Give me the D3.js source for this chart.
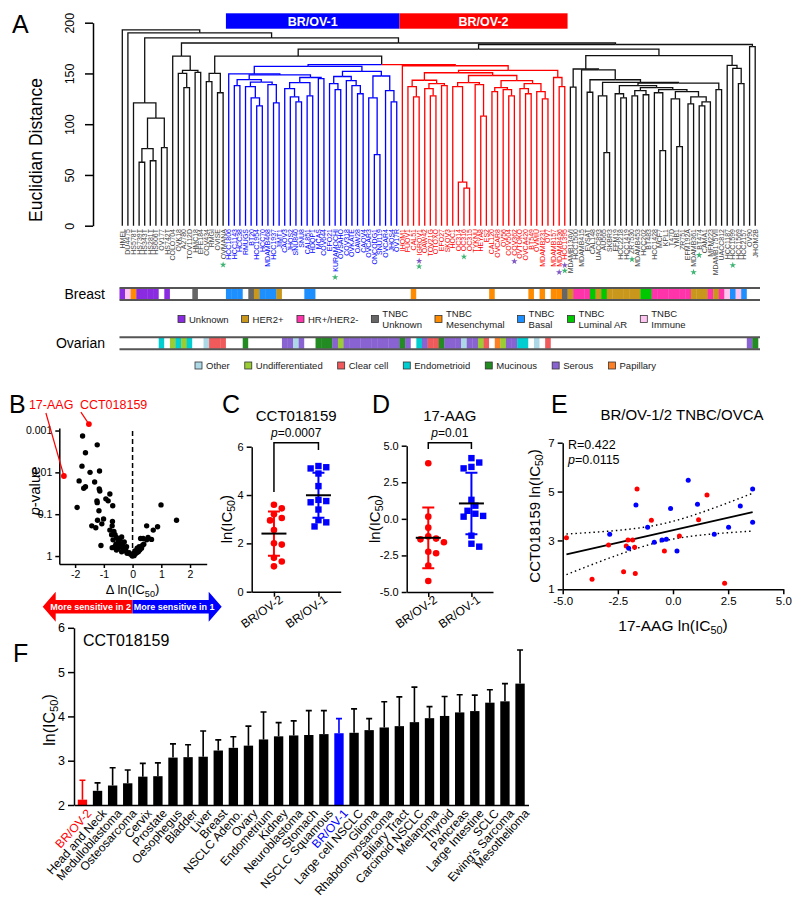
<!DOCTYPE html>
<html>
<head>
<meta charset="utf-8">
<script src="https://cdn.jsdelivr.net/npm/d3@7"></script>
<style>
  body { margin: 0; background: #fff; }
  text { font-family: "Liberation Sans", Arial, Helvetica, sans-serif; }
</style>
</head>
<body>
<script>
// ---------------- data ----------------
// dendrogram: [mergeHeight, left, right] or a leaf name
var hsTree = [121, "HS578T", [106, [76, [62.5, "HS739T", "HS343T"], [64, "HS281T", "HS606T"]], [77, "OV177", "HS742T"]]];
var coloTree = [167, "COLO704", [153, [150, "OVK18", [136, "A2780", "TOV112D"]], [151, "HMC18", "EFE184"]]];
var clearTree = [150, [142, "COV434", "RMGI"], [131, "OVISE", "OVMANA"]];
var blueTree = [157,
  [149.5, "HCC1806",
    [148.5,
      [144, [138, "HCC1143", "HCC38"], [141.5, [137, "RMUGS", [126, "BT20", [118, "HCC1954", "HCC70"]]], [139, "MDAMB468", [121, "HCC1937", "JIMT1"]]]],
      [146, [141, [135, "CAOV3", [127, "JHOS2", [122, "SNU840", "SNU8"]]], [128, "CAL851", "HDQP1"]], [145, "MCAS", "COV644"]]]],
  [152,
    [147, [140, "EFO21", [134, "KURAMOCHI", "OVSAHO"]], [143, "COV318", [138, "OVKATE", [130, "OAW28", "CAOV4"]]]],
    [147.5, [126, "OVCAR3", [70, "ONCODG1", "SNU119"]], [133, "OVCAR4", [122, "JHOS4", "OV17R"]]]]];
var redTree = [157.6, "IHOM1",
  [153,
    [150.7,
      [143.3, [137, "FUOV1", [127, "CAL51", "IGROV1"]], [140, [135, "OAW42", [128, "TOV21G", "OTOXO"]], [138, "EFO27", "SKOV3"]]],
      [148,
        [141, [137, "HOC1", [43, "OC314", [37, "OC316", "OC315"]]], [139, "TYKNU", [108, "HEYA8", "ES2"]]],
        [143, [136, [132, "CAL120", "OVCAR8"], [134, "OV56", [128, "COV504", "COV362"]]],
              [140, [135, "OVTOKO", [130, "OVCA420", "BT549"]], [132, "OVMIU", [125, "MDAMB231", "OV7"]]]]]],
    [146, "MDAMB157", [137, "MDAMB436", "HCC1395"]]]];
var lumTree = [138, [130, "EFM19", [126, "HCC2218", "HCC1419"]],
  [136, [133, [128, "ZR7530", "MDAMB453"], [129, "HCC202", "BT483"]],
    [134, [131, "HCC1428", [74, "MCF7", "KPL1"]],
      [132, [125, "T47D", [78, "YMB1", "ZR751"]], [127, [120, "EFM192A", "MDAMB361"], [122, [118, "BT474", "CAMA1"], "MFM223"]]]]]];
var rightTree = [167.5,
  [154.4, [136.6, "MDAMB134VI", "HCC1500"],
    [153.6, "MDAMB415",
      [143.8, [131.5, "EVSAT", "CAL148"],
        [141.2, [128, "UACC893", [72, "AU565", "SKBR3"]],
          [140.5, lumTree, [134, "MDAMB175VII", "UACC812"]]]]]],
  [157.9, "HCC1187", [155, "HCC1599", [140, "HCC1569", "HCC2157"]]]];
var dendroTree = [193, "HMEL", [190, "DU4475", [185, hsTree, [180, coloTree,
  [178.5, [174, [167, clearTree, [158.6, blueTree, redTree]], rightTree], [176.5, "OV90", "JHOM2B"]]]]]];

// subtype of every leaf, in leaf order ("." = none)
var breastCodes = ["UIMUUUU.U.", "...N.....B", "BB.NHBBBH.", "...BB.....", "..........",
  "..M.......", "......M...", "...M.M.MMN", "HRRRLHLHHH", "HHHLLRRRRR", "RRHHHRHRIB", "IB.."].join("");
var ovarianCodes = [".......E.D", "EDE..OCCC.", "..M......S", "SOS..MMMSD", "SSSSSSSSSS",
  "MS.ESCCMSS", "SOSSDC.PDS", "SEE.O.C...", "..........", "..........", "..........", "..SM"].join("");
var breastKeys = ["U", "H", "R", "N", "M", "B", "L", "I"];
var breastLabels = ["Unknown", "HER2+", "HR+/HER2-", "TNBC Unknown", "TNBC Mesenchymal", "TNBC Basal", "TNBC Luminal AR", "TNBC Immune"];
var ovarianKeys = ["O", "D", "C", "E", "M", "S", "P"];
var ovarianLabels = ["Other", "Undifferentiated", "Clear cell", "Endometrioid", "Mucinous", "Serous", "Papillary"];
var starLeaves = [["OVMANA", "g"], ["KURAMOCHI", "g"], ["IGROV1", "p"], ["IGROV1", "g"], ["OC316", "g"], ["COV362", "p"],
  ["MDAMB436", "p"], ["HCC1395", "p"], ["HCC1395", "g"], ["ZR7530", "g"], ["MDAMB361", "g"], ["BT474", "g"], ["HCC1599", "g"]];

// B: volcano (delta ln IC50, p-value)
var volcanoDelta = [-1.74, -1.23, -1.64, -1.76, -1.48, -1.15, -1.86, -1.32, -1.70, -1.64, -1.16, -1.14, -0.79, -1.93, -1.24,
  -1.23, -0.93, -0.85, -0.69, -1.17, -1.01, -1.42, -1.28, -1.22, -1.07, -0.70, -0.71, -1.10, 0.49, 0.99, 0.87, 1.53, 0.72,
  -0.65, -0.61, -0.56, -0.68, -0.50, -0.58, -0.44, -0.42, -0.50, -0.35, -0.30, -0.38, -0.23, -0.19, -0.12, -0.07, -0.01,
  -0.62, -0.71, -0.56, -0.44, -0.29, 0.05, 0.09, 0.14, 0.20, 0.25, 0.31, 0.35, 0.23, 0.39, 0.49, 0.54, 0.66, 0.28, 0.37,
  0.16, 0.08, -0.73, -0.38, -0.79, -0.21];
var volcanoP = [0.00135, 0.0022, 0.0034, 0.0071, 0.010, 0.0093, 0.016, 0.017, 0.024, 0.022, 0.025, 0.028, 0.033, 0.069, 0.048,
  0.053, 0.043, 0.048, 0.063, 0.083, 0.13, 0.19, 0.21, 0.14, 0.17, 0.15, 0.19, 0.56, 0.19, 0.060, 0.20, 0.14, 0.24,
  0.26, 0.31, 0.36, 0.41, 0.43, 0.52, 0.50, 0.60, 0.65, 0.55, 0.69, 0.79, 0.76, 0.86, 0.83, 0.91, 1.0,
  0.60, 0.63, 0.72, 0.40, 0.46, 0.98, 0.90, 0.83, 0.79, 0.72, 0.65, 0.55, 0.60, 0.52, 0.41, 0.36, 0.40, 0.38, 0.38,
  0.65, 0.76, 0.31, 0.35, 0.24, 0.60];
var hitNames = ["17-AAG", "CCT018159"];
var hitDelta = [-2.39, -1.52];
var hitP = [0.0122, 0.0007];

// C, D: ln(IC50) per cluster
var groupNames = ["BR/OV-2", "BR/OV-1"];
var cctOV2 = [3.6, 3.45, 3.2, 3.05, 2.95, 2.55, 2.0, 1.95, 1.4, 1.25, 1.05];
var cctOV1 = [5.2, 5.15, 5.1, 4.89, 4.37, 3.8, 3.75, 3.7, 3.4, 2.96, 2.87, 2.7];
var aagOV2 = [3.8, 0.15, -0.6, -1.2, -1.35, -1.4, -1.6, -2.25, -2.35, -3.2, -4.25];
var aagOV1 = [4.15, 3.85, 3.55, 3.45, 1.3, 0.9, 0.55, 0.35, 0.2, 0.15, -1.15, -1.7, -1.9];

// E: 17-AAG vs CCT018159
var corrRedX = [-4.83, -3.67, -2.92, -2.24, -2.12, -2.04, -1.83, -1.74, -1.71, -1.63, -0.98, -0.39, 0.29, 1.16, 1.54, 2.34];
var corrRedY = [3.11, 1.41, 2.81, 1.72, 2.77, 3.02, 3.02, 2.72, 1.65, 5.10, 3.83, 2.57, 3.18, 3.85, 4.86, 1.25];
var corrBlueX = [-2.87, -2.01, -1.68, -1.15, -0.85, -0.50, -0.30, -0.11, 0.18, 0.69, 1.11, 1.87, 2.52, 3.05, 3.61, 3.61];
var corrBlueY = [3.25, 2.68, 4.45, 3.54, 2.93, 3.02, 3.05, 4.31, 2.57, 5.46, 4.48, 3.25, 3.54, 4.41, 5.10, 3.74];

// F: CCT018159 by tissue
var tissues = ["BR/OV-2", "Head and Neck", "Medulloblastoma", "Osteosarcoma", "Cervix", "Prostate", "Oesophegus", "Bladder",
  "Liver", "Breast", "NSCLC Adeno.", "Ovary", "Endometrium", "Kidney", "Neuroblastoma", "Stomach", "NSCLC Squamous",
  "BR/OV-1", "Large cell NSCLC", "Glioma", "Rhabdomyosarcoma", "Biliary Tract", "Carcinoid NSCLC", "Melanoma", "Thyroid",
  "Pancreas", "Large Intestine", "SCLC", "Ewing's Sarcoma", "Mesothelioma"];
var tissueMean = [2.12, 2.32, 2.44, 2.49, 2.64, 2.65, 3.07, 3.08, 3.09, 3.23, 3.29, 3.34, 3.48, 3.55, 3.57, 3.58, 3.60,
  3.62, 3.63, 3.69, 3.75, 3.78, 3.87, 3.96, 4.01, 4.09, 4.12, 4.31, 4.34, 4.74];
var tissueSD = [0.44, 0.18, 0.40, 0.30, 0.30, 0.30, 0.31, 0.28, 0.58, 0.24, 0.25, 0.44, 0.62, 0.31, 0.33, 0.55, 0.53,
  0.33, 0.54, 0.26, 0.58, 0.66, 0.79, 0.26, 0.44, 0.40, 0.36, 0.29, 0.40, 0.76];

// ---------------- styles ----------------
var BLUE = "#0000ff", RED = "#ff0000";
var breastColors = ["#8a2be2", "#c9971c", "#ff33aa", "#666666", "#ff8c00", "#1e8fff", "#00c800", "#ffc4ef"];
var ovarianColors = ["#add8e6", "#9acd32", "#f05a5a", "#00ced1", "#228b22", "#8a63d2", "#ff7f24"];
var starColors = { g: "#3cb371", p: "#7e57c2" };

var svg = d3.select("body").append("svg").attr("width", 800).attr("height", 899);

function styleAxis(g, fs) {
  g.attr("font-family", null).attr("font-size", null);
  g.selectAll("text").style("font-size", fs + "px").attr("fill", "#000");
  g.selectAll("path, line").attr("stroke", "#000").attr("stroke-width", 1.5);
  return g;
}
function lnIC(t, prefix) {
  t.append("tspan").text((prefix || "") + "ln(IC");
  t.append("tspan").text("50").attr("dy", "0.3em").style("font-size", "70%");
  t.append("tspan").text(")").attr("dy", "-0.3em");
}
function pText(t, rest) {
  t.append("tspan").text("p").style("font-style", "italic");
  t.append("tspan").text(rest);
}
function letter(txt, x, y) {
  svg.append("text").attr("x", x).attr("y", y).text(txt).style("font-size", "25px");
}
function flatten(t) { return Array.isArray(t) ? t.slice(1).flatMap(flatten) : [t]; }
var intFmt = d3.format("d");

// ---------------- A: dendrogram ----------------
letter("A", 12, 33);
var root = d3.hierarchy(dendroTree, function(d) { return Array.isArray(d) ? d.slice(1) : null; });
root.each(function(n) { n.h = Array.isArray(n.data) ? n.data[0] : 0; });
var leafNames = root.leaves().map(function(n) { return n.data; });
var xLeaf = d3.scaleBand().domain(leafNames).range([119.5, 758]);
var yA = d3.scaleLinear().domain([0, 200]).range([225.7, 22.7]);
var blueSet = new Set(flatten(blueTree)), redSet = new Set(flatten(redTree));
root.eachAfter(function(n) {
  n.x = n.children ? d3.mean(n.children, function(c) { return c.x; }) : xLeaf(n.data) + xLeaf.bandwidth() / 2;
  var lv = n.leaves().map(function(l) { return l.data; });
  n.col = lv.every(function(v) { return blueSet.has(v); }) ? BLUE : lv.every(function(v) { return redSet.has(v); }) ? RED : "#111";
});
var gA = svg.append("g");
gA.selectAll("path.link").data(root.descendants().filter(function(n) { return n.parent; }))
  .enter().append("path").attr("class", "link")
  .attr("d", function(n) { return "M" + n.x + "," + yA(n.h) + "V" + yA(n.parent.h) + "H" + n.parent.x; })
  .attr("fill", "none").attr("stroke", function(n) { return n.col; }).attr("stroke-width", 1.3);

var axA = styleAxis(gA.append("g").attr("transform", "translate(93,0)")
  .call(d3.axisLeft(yA).tickValues([0, 50, 100, 150, 200]).tickSize(8).tickSizeOuter(0)), 12.5);
axA.selectAll("text").attr("transform", "rotate(-90)").attr("x", 0).attr("y", -19).attr("dy", 0).style("text-anchor", "middle");
gA.append("text").attr("transform", "translate(42,150) rotate(-90)").attr("text-anchor", "middle")
  .style("font-size", "17.5px").text("Euclidian Distance");

var leafLabels = gA.selectAll("text.leaf").data(root.leaves()).enter().append("text").attr("class", "leaf")
  .attr("transform", function(n) { return "translate(" + n.x + ",229) rotate(-90)"; })
  .attr("text-anchor", "end").attr("dy", "0.35em").style("font-size", "7px")
  .attr("fill", function(n) { return n.col === "#111" ? "#444" : n.col; })
  .text(function(n) { return n.data; });
var labelLen = {};
leafLabels.each(function(n) { labelLen[n.data] = this.getComputedTextLength(); });
var starCount = {};
starLeaves.forEach(function(s) {
  var k = starCount[s[0]] = (starCount[s[0]] || 0) + 1;
  var lx = xLeaf(s[0]) + xLeaf.bandwidth() / 2;
  gA.append("path").attr("d", d3.symbol(d3.symbolStar, 13)())
    .attr("transform", "translate(" + lx + "," + (229 + labelLen[s[0]] + k * 5.5) + ")")
    .attr("fill", starColors[s[1]]);
});

// cluster bars
[[blueTree, BLUE, "BR/OV-1"], [redTree, RED, "BR/OV-2"]].forEach(function(c) {
  var lv = flatten(c[0]);
  var x0 = xLeaf(lv[0]), x1 = xLeaf(lv[lv.length - 1]) + xLeaf.bandwidth();
  gA.append("rect").attr("x", x0).attr("y", 13.3).attr("width", x1 - x0).attr("height", 15.4).attr("fill", c[1]);
  gA.append("text").attr("x", (x0 + x1) / 2).attr("y", 25.5).attr("text-anchor", "middle")
    .attr("fill", "#fff").style("font-weight", "bold").style("font-size", "12.5px").text(c[2]);
});

// subtype strips
function strip(codes, keys, colors, y0, label) {
  var g = svg.append("g");
  g.selectAll("rect").data(leafNames).enter().append("rect")
    .attr("x", function(d) { return xLeaf(d); }).attr("y", y0).attr("width", xLeaf.bandwidth() + 0.3).attr("height", 11)
    .attr("fill", function(d, i) { var k = keys.indexOf(codes[i]); return k < 0 ? "#fff" : colors[k]; });
  [y0 - 0.5, y0 + 11.5].forEach(function(yy) {
    g.append("line").attr("x1", xLeaf.range()[0]).attr("x2", xLeaf.range()[1] + 2).attr("y1", yy).attr("y2", yy)
      .attr("stroke", "#555").attr("stroke-width", 2);
  });
  g.append("text").attr("x", 105).attr("y", y0 + 10).attr("text-anchor", "end").style("font-size", "14px").text(label);
}
strip(breastCodes, breastKeys, breastColors, 288.5, "Breast");
strip(ovarianCodes, ovarianKeys, ovarianColors, 337.8, "Ovarian");

function legendRow(labels, colors, x0, yc, gap) {
  var g = svg.append("g"), x = x0;
  labels.forEach(function(lab, i) {
    g.append("rect").attr("x", x).attr("y", yc - 3.5).attr("width", 7).attr("height", 7)
      .attr("fill", colors[i]).attr("stroke", "#333").attr("stroke-width", 0.8);
    var parts = lab.indexOf("TNBC ") === 0 ? ["TNBC", lab.slice(5)] : [lab];
    var t = g.append("text").style("font-size", "9.5px").attr("fill", "#222");
    parts.forEach(function(p, j) {
      t.append("tspan").attr("x", x + 11).attr("y", parts.length === 2 ? yc - 2.5 + j * 11.5 : yc + 3.5).text(p);
    });
    x += 11 + t.node().getBBox().width + gap;
  });
}
legendRow(breastLabels, breastColors, 178, 319, 13);
legendRow(ovarianLabels, ovarianColors, 195, 365.5, 15);

// ---------------- B: volcano ----------------
letter("B", 9, 413);
var xB = d3.scaleLinear().domain([-2.55, 2.58]).range([59.3, 206.7]);
var yB = d3.scaleLog().domain([1.55, 0.00087]).range([564, 428]);
var gB = svg.append("g");
styleAxis(gB.append("g").attr("transform", "translate(59.3,0)")
  .call(d3.axisLeft(yB).tickValues([0.001, 0.01, 0.1, 1]).tickFormat(function(d) { return String(d); }).tickSize(4).tickSizeOuter(0)), 10.5);
styleAxis(gB.append("g").attr("transform", "translate(0,564)")
  .call(d3.axisBottom(xB).tickValues([-2, -1, 0, 1, 2]).tickFormat(function(d) { return String(d); }).tickSize(4).tickSizeOuter(0)), 10.5);
gB.append("line").attr("x1", xB(0)).attr("x2", xB(0)).attr("y1", yB(1)).attr("y2", yB(0.001))
  .attr("stroke", "#000").attr("stroke-width", 1.5).attr("stroke-dasharray", "5,3");
gB.selectAll("circle.v").data(volcanoDelta).enter().append("circle").attr("class", "v")
  .attr("cx", function(d) { return xB(d); }).attr("cy", function(d, i) { return yB(volcanoP[i]); })
  .attr("r", 2.7).attr("fill", "#000");
// label anchor offsets from each highlighted point, and text shift from that anchor
var hitLabelOff = [[-18, -63], [-8, -12]];
var hitTextShift = [-17, -1];
hitNames.forEach(function(n, i) {
  var px = xB(hitDelta[i]), py = yB(hitP[i]);
  var lx = px + hitLabelOff[i][0], ly = py + hitLabelOff[i][1];
  gB.append("line").attr("x1", px).attr("y1", py).attr("x2", lx).attr("y2", ly).attr("stroke", RED).attr("stroke-width", 1.2);
  gB.append("circle").attr("cx", px).attr("cy", py).attr("r", 2.9).attr("fill", RED);
  gB.append("text").attr("x", lx + hitTextShift[i]).attr("y", ly - 3.5)
    .attr("fill", RED).style("font-size", "12.5px").text(n);
});
var tB = gB.append("text").attr("transform", "translate(40,491) rotate(-90)").attr("text-anchor", "middle").style("font-size", "15px");
pText(tB, "-value");
var tB2 = gB.append("text").attr("x", xB(0)).attr("y", 594).attr("text-anchor", "middle").style("font-size", "13px");
lnIC(tB2, "\u0394 ");
// arrow
var ax0 = 42.7, ax1 = 221.7, amid = xB(0), ay = 606.7;
gB.append("path").attr("d", "M" + ax0 + "," + ay + "L" + (ax0 + 13) + "," + (ay - 15) + "V" + (ay - 6.7) + "H" + amid +
  "V" + (ay + 6.7) + "H" + (ax0 + 13) + "V" + (ay + 15) + "Z").attr("fill", RED);
gB.append("path").attr("d", "M" + ax1 + "," + ay + "L" + (ax1 - 13) + "," + (ay - 15) + "V" + (ay - 6.7) + "H" + amid +
  "V" + (ay + 6.7) + "H" + (ax1 - 13) + "V" + (ay + 15) + "Z").attr("fill", BLUE);
gB.append("text").attr("x", (ax0 + 6 + amid) / 2).attr("y", ay + 3.3).attr("text-anchor", "middle").attr("fill", "#fff")
  .style("font-size", "9px").style("font-weight", "bold").text("More sensitive in 2");
gB.append("text").attr("x", (ax1 - 6 + amid) / 2).attr("y", ay + 3.3).attr("text-anchor", "middle").attr("fill", "#fff")
  .style("font-size", "9px").style("font-weight", "bold").text("More sensitive in 1");

// ---------------- C, D: scatter dot plots ----------------
function swarm(vals, y, r) {
  var placed = [];
  return vals.map(function(v) {
    var py = y(v), off = 0, k = 0;
    while (placed.some(function(p) { return Math.hypot(p[0] - off, p[1] - py) < 2 * r; })) {
      k++; off = (k % 2 ? 1 : -1) * Math.ceil(k / 2) * r * 1.15;
    }
    placed.push([off, py]);
    return off;
  });
}
function dotPanel(c) {
  var g = svg.append("g");
  var y = d3.scaleLinear().domain(c.domain).range([c.yBot, c.yTop]);
  var x = d3.scalePoint().domain(groupNames).range([c.xL, c.xR]).padding(0.5);
  styleAxis(g.append("g").attr("transform", "translate(" + c.xL + ",0)")
    .call(d3.axisLeft(y).tickValues(c.ticks).tickFormat(c.fmt).tickSize(5).tickSizeOuter(0)), 11);
  var xa = styleAxis(g.append("g").attr("transform", "translate(0," + c.yBot + ")")
    .call(d3.axisBottom(x).tickSize(5).tickSizeOuter(0)), 12);
  xa.selectAll("text").attr("transform", "rotate(-35)").attr("x", 2).attr("y", 9).attr("dy", "0.35em").style("text-anchor", "end");
  [[c.ov2, RED, "circle"], [c.ov1, BLUE, "square"]].forEach(function(s, gi) {
    var cx = x(groupNames[gi]);
    var offs = swarm(s[0], y, 3.4);
    s[0].forEach(function(v, i) {
      if (s[2] === "circle") g.append("circle").attr("cx", cx + offs[i]).attr("cy", y(v)).attr("r", 3.3).attr("fill", s[1]);
      else g.append("rect").attr("x", cx + offs[i] - 3.2).attr("y", y(v) - 3.2).attr("width", 6.4).attr("height", 6.4).attr("fill", s[1]);
    });
    var m = d3.mean(s[0]), sd = d3.deviation(s[0]);
    g.append("path").attr("d", "M" + (cx - 6) + "," + y(m + sd) + "H" + (cx + 6) + "M" + cx + "," + y(m + sd) + "V" + y(m - sd) +
      "M" + (cx - 6) + "," + y(m - sd) + "H" + (cx + 6)).attr("stroke", s[1]).attr("stroke-width", 2).attr("fill", "none");
    g.append("line").attr("x1", cx - 12.5).attr("x2", cx + 12.5).attr("y1", y(m)).attr("y2", y(m)).attr("stroke", "#000").attr("stroke-width", 2);
  });
  var bx0 = x(groupNames[0]), bx1 = x(groupNames[1]);
  g.append("path").attr("d", "M" + bx0 + "," + c.legL + "V" + c.brY + "H" + bx1 + "V" + c.legR)
    .attr("fill", "none").attr("stroke", "#000").attr("stroke-width", 1.5);
  pText(g.append("text").attr("x", (bx0 + bx1) / 2).attr("y", c.brY - 5.5).attr("text-anchor", "middle").style("font-size", "12px"), c.p);
  g.append("text").attr("x", (bx0 + bx1) / 2).attr("y", 421).attr("text-anchor", "middle").style("font-size", "15px").text(c.title);
  lnIC(g.append("text").attr("transform", "translate(" + c.titleX + "," + ((c.yTop + c.yBot) / 2) + ") rotate(-90)")
    .attr("text-anchor", "middle").style("font-size", "15px"));
}
letter("C", 222, 413);
dotPanel({ domain: [0, 6], yBot: 591.7, yTop: 446.7, xL: 251.7, xR: 340.7, ticks: [0, 2, 4, 6], fmt: intFmt,
  ov2: cctOV2, ov1: cctOV1, brY: 442.7, legL: 492, legR: 450, p: "=0.0007", title: "CCT018159", titleX: 232 });
letter("D", 372, 413);
dotPanel({ domain: [-5, 5], yBot: 592, yTop: 445.7, xL: 406.7, xR: 493, ticks: [-5, -2.5, 0, 2.5, 5],
  fmt: function(d) { return d.toFixed(1); }, ov2: aagOV2, ov1: aagOV1, brY: 442.7, legL: 449, legR: 449, p: "=0.01",
  title: "17-AAG", titleX: 380 });

// ---------------- E: correlation ----------------
letter("E", 551, 413);
var gE = svg.append("g");
var xE = d3.scaleLinear().domain([-5, 5]).range([562.7, 783.3]);
var yE = d3.scaleLinear().domain([1, 7]).range([589.3, 442.7]);
styleAxis(gE.append("g").attr("transform", "translate(562.7,0)")
  .call(d3.axisLeft(yE).tickValues([1, 3, 5, 7]).tickFormat(intFmt).tickSize(5).tickSizeOuter(0)), 11.5);
styleAxis(gE.append("g").attr("transform", "translate(0,589.3)")
  .call(d3.axisBottom(xE).tickValues([-5, -2.5, 0, 2.5, 5]).tickFormat(function(d) { return d.toFixed(1); }).tickSize(5).tickSizeOuter(0)), 11.5);
var allX = corrRedX.concat(corrBlueX), allY = corrRedY.concat(corrBlueY);
var n = allX.length, mx = d3.mean(allX), my = d3.mean(allY);
var sxx = d3.sum(allX, function(v) { return (v - mx) * (v - mx); });
var sxy = d3.sum(allX, function(v, i) { return (v - mx) * (allY[i] - my); });
var slope = sxy / sxx, icpt = my - slope * mx;
var sRes = Math.sqrt(d3.sum(allX, function(v, i) { var e = allY[i] - icpt - slope * v; return e * e; }) / (n - 2));
var tCrit = 2.042;
var xs = d3.range(d3.min(allX), d3.max(allX) + 0.01, 0.1);
function band(sign) {
  return d3.line().x(function(v) { return xE(v); }).y(function(v) {
    return yE(icpt + slope * v + sign * tCrit * sRes * Math.sqrt(1 / n + (v - mx) * (v - mx) / sxx));
  })(xs);
}
[1, -1].forEach(function(s) {
  gE.append("path").attr("d", band(s)).attr("fill", "none").attr("stroke", "#000").attr("stroke-width", 1.4).attr("stroke-dasharray", "1.5,3");
});
gE.append("line").attr("x1", xE(d3.min(allX))).attr("x2", xE(d3.max(allX)))
  .attr("y1", yE(icpt + slope * d3.min(allX))).attr("y2", yE(icpt + slope * d3.max(allX))).attr("stroke", "#000").attr("stroke-width", 1.8);
[[corrRedX, corrRedY, RED], [corrBlueX, corrBlueY, BLUE]].forEach(function(s) {
  gE.selectAll(null).data(s[0]).enter().append("circle")
    .attr("cx", function(d) { return xE(d); }).attr("cy", function(d, i) { return yE(s[1][i]); })
    .attr("r", 2.5).attr("fill", s[2]);
});
gE.append("text").attr("x", 568).attr("y", 449).style("font-size", "12.5px").text("R=0.422");
pText(gE.append("text").attr("x", 568).attr("y", 463.5).style("font-size", "12.5px"), "=0.0115");
gE.append("text").attr("x", 682).attr("y", 420).attr("text-anchor", "middle").style("font-size", "15px").text("BR/OV-1/2 TNBC/OVCA");
lnIC(gE.append("text").attr("transform", "translate(540,516) rotate(-90)").attr("text-anchor", "middle").style("font-size", "15px"), "CCT018159 ");
lnIC(gE.append("text").attr("x", 673).attr("y", 631).attr("text-anchor", "middle").style("font-size", "15.5px"), "17-AAG ");

// ---------------- F: bars by tissue ----------------
letter("F", 13, 662);
var gF = svg.append("g");
var xF = d3.scaleBand().domain(tissues).range([74, 528.5]).paddingInner(0.38).paddingOuter(0.25);
var yF = d3.scaleLinear().domain([2, 6]).range([805, 627.8]);
function barColor(t) { return t === "BR/OV-2" ? RED : t === "BR/OV-1" ? BLUE : "#000"; }
tissues.forEach(function(t, i) {
  var cx = xF(t) + xF.bandwidth() / 2;
  gF.append("path").attr("d", "M" + cx + "," + yF(tissueMean[i]) + "V" + yF(tissueMean[i] + tissueSD[i]) +
    "M" + (cx - 3) + "," + yF(tissueMean[i] + tissueSD[i]) + "H" + (cx + 3))
    .attr("stroke", barColor(t)).attr("stroke-width", 1.6).attr("fill", "none");
});
gF.selectAll("rect").data(tissues).enter().append("rect")
  .attr("x", function(d) { return xF(d); }).attr("width", xF.bandwidth())
  .attr("y", function(d, i) { return yF(tissueMean[i]); })
  .attr("height", function(d, i) { return yF(2) - yF(tissueMean[i]); })
  .attr("fill", barColor);
styleAxis(gF.append("g").attr("transform", "translate(74,0)")
  .call(d3.axisLeft(yF).tickValues([2, 3, 4, 5, 6]).tickFormat(intFmt).tickSize(6).tickSizeOuter(0)), 12.5);
var xaF = styleAxis(gF.append("g").attr("transform", "translate(0,805)")
  .call(d3.axisBottom(xF).tickSize(0).tickSizeOuter(0)), 12);
xaF.selectAll("text").attr("transform", "rotate(-48)").attr("x", 0).attr("y", 9).attr("dy", "0.35em")
  .style("text-anchor", "end").attr("fill", barColor);
gF.append("text").attr("x", 83).attr("y", 646).style("font-size", "16px").text("CCT018159");
lnIC(gF.append("text").attr("transform", "translate(55,720) rotate(-90)").attr("text-anchor", "middle").style("font-size", "16px"));
</script>
</body>
</html>
